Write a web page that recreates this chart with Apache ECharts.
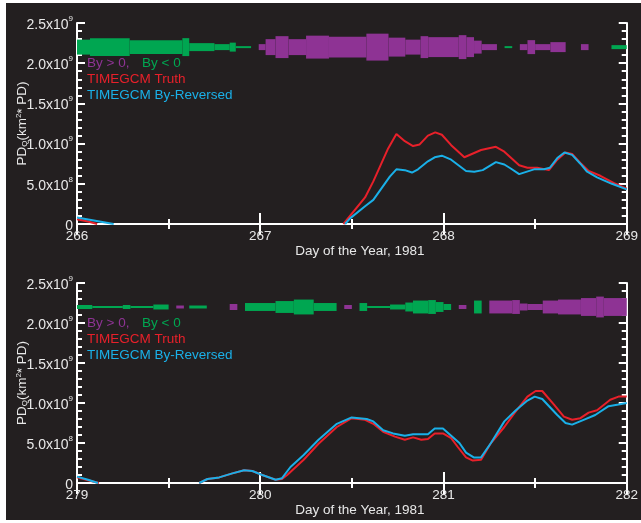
<!DOCTYPE html>
<html><head><meta charset="utf-8">
<script src="https://cdn.jsdelivr.net/npm/echarts@6/dist/echarts.min.js"></script>
<style>
html,body{margin:0;padding:0;background:#ffffff;}
#bg{position:absolute;left:6px;top:3px;width:635px;height:517px;background:#231f20;}
#c{position:absolute;left:0;top:0;width:641px;height:523px;}
</style></head>
<body><div id="bg"></div><div id="c"></div>
<script>
// ---- DATA (values in units of 1e8 km^2*PD; days of year 1981) ----
const topDayStart = 266, bottomDayStart = 279;
const xTicks = { top: [266, 267, 268, 269], bottom: [279, 280, 281, 282] };
const yTickLabels = ['0', '5.0x10|8', '1.0x10|9', '1.5x10|9', '2.0x10|9', '2.5x10|9'];

const topTruth = [[266,0.6],[266.06,0.3],[266.11,0],[266.5,null],
 [267.454,0],[267.572,3.3],[267.617,5.3],[267.698,9.4],[267.743,11.2],[267.789,10.3],[267.834,9.7],[267.870,9.9],
 [267.915,11.0],[267.955,11.4],[267.991,11.1],[268.042,9.8],[268.114,8.3],[268.205,9.2],[268.286,9.6],[268.332,9.0],
 [268.413,7.3],[268.458,7.0],[268.512,7.0],[268.575,6.7],[268.621,8.0],[268.666,8.9],[268.702,8.7],[268.747,7.6],
 [268.792,6.6],[268.856,6.0],[268.928,5.1],[269.0,4.4]];
const topReversed = [[266,0.8],[266.1,0.4],[266.2,0],[266.5,null],
 [267.463,0],[267.49,0.7],[267.572,2.2],[267.617,3.0],[267.707,5.9],[267.743,6.8],[267.789,6.7],[267.828,6.4],
 [267.861,6.8],[267.915,7.8],[267.952,8.3],[267.991,8.5],[268.042,8.0],[268.123,6.6],[268.168,6.5],[268.214,6.7],
 [268.286,7.7],[268.332,7.4],[268.367,6.9],[268.413,6.2],[268.494,6.8],[268.548,6.8],[268.581,7.0],[268.621,8.2],
 [268.660,8.9],[268.702,8.6],[268.747,7.5],[268.784,6.5],[268.838,5.8],[268.919,5.0],[269.0,4.3]];
const bottomTruth = [[279,0.7],[279.06,0.35],[279.12,0],[279.4,null],
 [279.667,0],[279.712,0.5],[279.776,0.7],[279.848,1.2],[279.912,1.6],[279.957,1.5],[280.011,1.0],[280.084,0.4],
 [280.119,0.5],[280.147,1.0],[280.237,2.9],[280.318,4.9],[280.418,7.0],[280.499,8.1],[280.572,7.9],[280.617,7.4],
 [280.671,6.4],[280.735,5.8],[280.789,5.4],[280.834,5.7],[280.879,5.4],[280.915,5.5],[280.952,6.2],[280.997,6.2],
 [281.042,5.6],[281.078,4.5],[281.123,3.2],[281.160,2.8],[281.205,2.9],[281.259,5.0],[281.332,7.0],[281.386,8.7],
 [281.458,10.8],[281.503,11.5],[281.539,11.5],[281.603,9.8],[281.657,8.3],[281.702,7.9],[281.747,8.1],[281.792,8.8],
 [281.838,9.1],[281.910,10.4],[281.955,10.8],[282.0,10.8]];
const bottomReversed = [[279,0.8],[279.06,0.4],[279.115,0],[279.4,null],
 [279.667,0],[279.712,0.5],[279.776,0.7],[279.848,1.2],[279.912,1.6],[279.957,1.5],[280.011,1.0],[280.084,0.4],
 [280.119,0.6],[280.165,2.0],[280.237,3.5],[280.318,5.4],[280.418,7.4],[280.499,8.2],[280.581,8.0],[280.617,7.7],
 [280.671,6.6],[280.725,6.2],[280.789,5.9],[280.834,6.1],[280.915,6.1],[280.952,6.8],[280.997,6.8],[281.087,5.0],
 [281.123,3.8],[281.165,3.2],[281.205,3.2],[281.259,5.0],[281.332,7.7],[281.395,9.1],[281.458,10.3],[281.498,10.8],
 [281.539,10.5],[281.621,8.5],[281.666,7.5],[281.702,7.3],[281.765,7.9],[281.828,8.5],[281.901,9.6],[281.955,9.8],[282.0,10.0]];

// IMF By strip segments: [startHour, endHour, By] (By>0 purple, By<0 green; thickness ~ |By|)
const topStrip = [[0,1.7,-7.5],[1.7,6.9,-9],[6.9,13.8,-7],[13.8,14.7,-9],[14.7,18,-4],[18,20,-3],[20,20.8,-4.5],[20.8,22.8,-1],
 [23.8,24.7,3],[24.7,26,8],[26,27.7,11],[27.7,30,8],[30,33,11.5],[33,37.9,10.5],[37.9,40.8,13.5],[40.8,43,9.5],[43,45,7.5],
 [45,46,11],[46,50,10],[50,51,12],[51,52,10],[52,53,6.5],[53,55,3],
 [56,57,-1],[58,59,3],[59,60,7],[60,62,3],[62,64,5],[66,67,3],[70,72,-2]];
const bottomStrip = [[0,2,-2],[2,6,-1],[6,7,-2],[7,10,-1],[10,12,-2.5],[13,14,1.5],[14.7,17,-1.5],[20,21,3],
 [22,26,-4],[26,28.4,-6],[28.4,31,-7.5],[31,34,-4],[35,36,2],
 [37,38,-4],[38,41,-1],[41,43,-2.5],[43,44,-4.5],[44,46,-6.5],[46,47,-7],[47,48,-5],[48,49,-3],
 [50,51,2],[52,53,-6.5],
 [54,57,6.5],[57,58,7],[58,59,3.5],[59,61,3],[61,63,6.5],[63,66,7.5],[66,68,9],[68,69,10.5],[69,72,9]];

// ---- STYLE ----
const RED = '#e8202a', BLUE = '#1ab0e8', PURPLE = '#8e3394', GREEN = '#00a651';
const FG = '#ffffff', TXT = '#e8e8e8';
const FONT = 'Liberation Sans';
const STRIP_CENTER = 22, STRIP_SCALE = 0.124;

const chart = echarts.init(document.getElementById('c'), null, {renderer: 'canvas'});

function yFmt(v) {
  const idx = Math.round(v / 5);
  const s = yTickLabels[idx];
  if (s === undefined) return '';
  if (s.indexOf('|') < 0) return '{m|' + s + '}';
  const p = s.split('|');
  return '{m|' + p[0] + '}{s|' + p[1] + '}';
}
const yRich = {
  m: {fontSize: 14, color: TXT, fontFamily: FONT, lineHeight: 17, padding: [4, 0, 0, 0]},
  s: {fontSize: 8, color: TXT, fontFamily: FONT, lineHeight: 8, verticalAlign: 'top'}
};

function xAxes(gi, min) {
  const common = {type: 'value', gridIndex: gi, min: min, max: min + 3, interval: 1,
    axisLine: {show: true, lineStyle: {color: FG, width: 2}},
    axisTick: {show: true, inside: true, length: 11, lineStyle: {color: FG, width: 2}},
    minorTick: {show: true, splitNumber: 2, length: 5, lineStyle: {color: FG, width: 2}},
    splitLine: {show: false}};
  return [
    Object.assign({}, common, {position: 'bottom',
      axisLabel: {show: true, color: TXT, fontSize: 13.5, fontFamily: FONT, margin: 5},
      name: 'Day of the Year, 1981', nameLocation: 'middle', nameGap: 20, nameMoveOverlap: false,
      nameTextStyle: {color: TXT, fontSize: 13.5, fontFamily: FONT, padding: [0, 0, 0, 16]}}),
    Object.assign({}, common, {position: 'top', axisLabel: {show: false}})
  ];
}
function yAxes(gi) {
  const common = {type: 'value', gridIndex: gi, min: 0, max: 25, interval: 5,
    axisLine: {show: true, lineStyle: {color: FG, width: 2}},
    axisTick: {show: true, inside: true, length: 8, lineStyle: {color: FG, width: 2}},
    minorTick: {show: true, splitNumber: 5, length: 5, lineStyle: {color: FG, width: 2}},
    splitLine: {show: false}};
  return [
    Object.assign({}, common, {position: 'left',
      axisLabel: {show: true, margin: 4, formatter: yFmt, rich: yRich},
      name: 'PD{sub|Q}(km{sup|2}* PD)', nameLocation: 'middle', nameGap: 48, nameRotate: 90,
      nameMoveOverlap: false,
      nameTextStyle: {color: TXT, fontSize: 13.5, fontFamily: FONT,
        rich: {sub: {fontSize: 8, color: TXT, fontFamily: FONT, verticalAlign: 'bottom', padding: [6, 0, 0, 0]},
               sup: {fontSize: 8, color: TXT, fontFamily: FONT, verticalAlign: 'top', lineHeight: 8}}}}),
    Object.assign({}, common, {position: 'right', axisLabel: {show: false}})
  ];
}

function stripData(arr, base) {
  return arr.map(d => [base + d[0] / 24, base + d[1] / 24, d[2]]);
}
function renderStrip(params, api) {
  const x0 = api.value(0), x1 = api.value(1), b = api.value(2);
  const h = Math.abs(b) * STRIP_SCALE;
  const p0 = api.coord([x0, STRIP_CENTER + h]);
  const p1 = api.coord([x1, STRIP_CENTER - h]);
  return {type: 'rect', shape: {x: p0[0], y: p0[1], width: p1[0] - p0[0], height: p1[1] - p0[1]},
          style: {fill: b > 0 ? PURPLE : GREEN}};
}
function lineSeries(data, color, xi, yi) {
  return {type: 'line', data: data, xAxisIndex: xi, yAxisIndex: yi, showSymbol: false, symbol: 'none',
    connectNulls: false, lineStyle: {color: color, width: 2}, itemStyle: {color: color}, animation: false, clip: true};
}
function stripSeries(arr, base, xi, yi) {
  return {type: 'custom', data: stripData(arr, base), xAxisIndex: xi, yAxisIndex: yi,
    renderItem: renderStrip, encode: {x: [0, 1], y: 2}, animation: false};
}

function legend(top) {
  const st = (c) => ({fill: c, font: '13.5px "' + FONT + '"'});
  return [
    {type: 'text', left: 87, top: top, style: Object.assign({text: 'By > 0,'}, st(PURPLE))},
    {type: 'text', left: 142, top: top, style: Object.assign({text: 'By < 0'}, st(GREEN))},
    {type: 'text', left: 87, top: top + 16, style: Object.assign({text: 'TIMEGCM Truth'}, st(RED))},
    {type: 'text', left: 87, top: top + 32, style: Object.assign({text: 'TIMEGCM By-Reversed'}, st(BLUE))}
  ];
}

const option = {
  backgroundColor: 'transparent',
  animation: false,
  grid: [
    {left: 77, right: 11, top: 23, height: 201},
    {left: 77, right: 11, top: 283, height: 200}
  ],
  xAxis: [].concat(xAxes(0, topDayStart), xAxes(1, bottomDayStart)),
  yAxis: [].concat(yAxes(0), yAxes(1)),
  series: [
    stripSeries(topStrip, topDayStart, 0, 0),
    lineSeries(topTruth, RED, 0, 0),
    lineSeries(topReversed, BLUE, 0, 0),
    stripSeries(bottomStrip, bottomDayStart, 2, 2),
    lineSeries(bottomTruth, RED, 2, 2),
    lineSeries(bottomReversed, BLUE, 2, 2)
  ],
  graphic: [].concat(legend(56), legend(316))
};
chart.setOption(option);
</script></body></html>
